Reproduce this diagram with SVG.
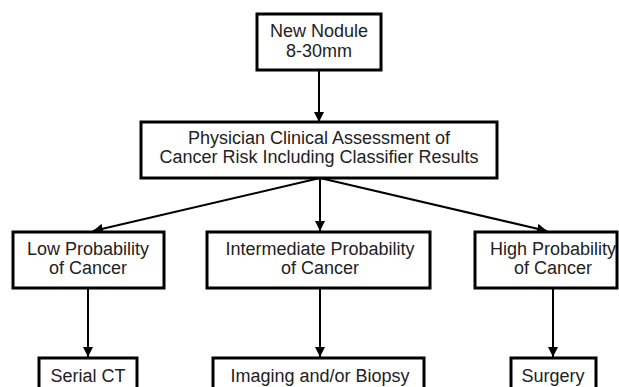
<svg xmlns="http://www.w3.org/2000/svg" width="619" height="387" viewBox="0 0 619 387">
<style>
.box{fill:#fff;stroke:#000;stroke-width:3}
.t{font-family:"Liberation Sans",Arial,sans-serif;font-size:18px;fill:#222;text-anchor:middle}
.c{stroke:#000;stroke-width:2;fill:none;marker-end:url(#ah)}
</style>
<defs>
<marker id="ah" viewBox="0 0 10 10" refX="10" refY="5" markerWidth="5" markerHeight="5" orient="auto" markerUnits="strokeWidth">
<path d="M0,0 L10,5 L0,10 z" fill="#000"/>
</marker>
</defs>
<rect width="619" height="387" fill="#fff"/>
<g id="connectors">
<line class="c" x1="319" y1="71" x2="319" y2="122"/>
<line class="c" x1="320" y1="178" x2="93" y2="231"/>
<line class="c" x1="320" y1="178" x2="320" y2="231"/>
<line class="c" x1="320" y1="178" x2="547" y2="231"/>
<line class="c" x1="88" y1="289" x2="88" y2="357"/>
<line class="c" x1="320" y1="289" x2="320" y2="357"/>
<line class="c" x1="553" y1="289" x2="553" y2="357"/>
</g>
<g id="n1">
<rect class="box" x="257" y="14" width="124" height="56"/>
<text class="t" x="319" y="37">New Nodule</text>
<text class="t" x="319" y="57">8-30mm</text>
</g>
<g id="n2">
<rect class="box" x="141" y="122" width="356" height="56"/>
<text class="t" x="319" y="144">Physician Clinical Assessment of</text>
<text class="t" x="319" y="163">Cancer Risk Including Classifier Results</text>
</g>
<g id="n3">
<rect class="box" x="13" y="232" width="151" height="56"/>
<text class="t" x="88" y="255">Low Probability</text>
<text class="t" x="88" y="274">of Cancer</text>
</g>
<g id="n4">
<rect class="box" x="207" y="232" width="223" height="56"/>
<text class="t" x="320" y="255">Intermediate Probability</text>
<text class="t" x="320" y="274">of Cancer</text>
</g>
<g id="n5">
<rect class="box" x="475" y="232" width="142" height="56"/>
<text class="t" x="553" y="255">High Probability</text>
<text class="t" x="553" y="274">of Cancer</text>
</g>
<g id="n6">
<rect class="box" x="39" y="358" width="98" height="40"/>
<text class="t" x="88" y="382">Serial CT</text>
</g>
<g id="n7">
<rect class="box" x="213" y="358" width="211" height="40"/>
<text class="t" x="320" y="382">Imaging and/or Biopsy</text>
</g>
<g id="n8">
<rect class="box" x="511" y="358" width="85" height="40"/>
<text class="t" x="553" y="382">Surgery</text>
</g>
</svg>
